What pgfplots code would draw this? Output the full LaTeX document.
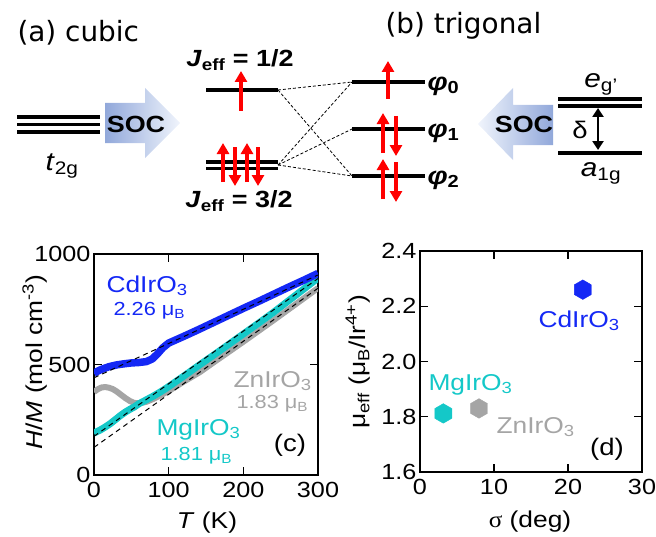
\documentclass[border=0pt]{standalone}
\usepackage{fontspec}
\setmainfont{Liberation Sans}[FakeStretch=1.15]
\newfontfamily\grk{Liberation Serif}[FakeStretch=1.1]
\newfontfamily\hdr{DejaVu Sans}
\usepackage{pgfplots}
\pgfplotsset{compat=1.18}
\usetikzlibrary{arrows.meta}

\definecolor{cdblue}{RGB}{20,40,245}
\definecolor{mgcyan}{RGB}{20,200,200}
\definecolor{zngray}{RGB}{165,165,165}
\definecolor{socdark}{RGB}{145,168,218}
\definecolor{soclight}{RGB}{240,244,252}
\definecolor{spinred}{RGB}{255,0,0}

\newcommand\fs[1]{\fontsize{#1}{#1}\selectfont}

\pgfdeclareplotmark{hexagon}{%
  \pgfpathmoveto{\pgfqpointpolar{90}{\pgfplotmarksize}}%
  \pgfpathlineto{\pgfqpointpolar{150}{\pgfplotmarksize}}%
  \pgfpathlineto{\pgfqpointpolar{210}{\pgfplotmarksize}}%
  \pgfpathlineto{\pgfqpointpolar{270}{\pgfplotmarksize}}%
  \pgfpathlineto{\pgfqpointpolar{330}{\pgfplotmarksize}}%
  \pgfpathlineto{\pgfqpointpolar{30}{\pgfplotmarksize}}%
  \pgfpathclose
  \pgfusepathqfillstroke}

\pgfplotsset{panel/.style={
  scale only axis, anchor=south west,
  axis line style={line width=1.6bp},
  every tick/.style={black, line width=1.4bp},
  major tick length=8bp, tick align=inside,
  tick label style={font=\fs{22}},
  x tick label style={yshift=-4bp},
  /pgf/number format/assume math mode=true,
  /pgf/number format/1000 sep={},
  scaled ticks=false,
}}
\tikzset{
  lvl/.style={black, line width=3.4bp},
  spin/.style={spinred, line width=3.4bp, -{Triangle[width=12bp,length=11bp]}},
  conn/.style={black, line width=0.8bp, dash pattern=on 3bp off 2bp},
}

\begin{document}
\begin{tikzpicture}
\useasboundingbox (0,0) rectangle (656bp,537bp);

% ---------------- panel (c)
\begin{axis}[panel, at={(94bp,62bp)}, width=224bp, height=221bp,
  xmin=0, xmax=300, ymin=0, ymax=1000,
  xtick={0,100,200,300}, ytick={0,500,1000}]
\addplot[zngray, line width=6bp, line join=round] coordinates {
(0,376) (5,388) (10,396) (15,398) (20,395) (25,389) (30,379) (35,366)
(42,348) (48,335) (54,326) (62,325) (70,331) (80,345) (90,362) (100,380)
(120,422) (142,466) (160,509) (180,556) (200,603) (220,651) (240,699)
(260,748) (280,797) (300,846)};
\addplot[mgcyan, line width=7bp, line join=round] coordinates {
(0,190) (8,203) (15,217) (22,233) (28,249) (35,268) (42,285) (48,297)
(54,308) (60,322) (70,340) (80,358) (90,378) (100,400) (120,447) (140,495)
(160,542) (180,590) (200,638) (220,686) (240,735) (260,787) (280,839) (300,891)};
\addplot[cdblue, line width=7.5bp, line join=round] coordinates {
(0,460) (5,470) (10,478) (20,490) (30,498) (40,503) (50,507) (60,509)
(70,513) (78,525) (85,548) (92,575) (100,597) (110,612) (120,627) (140,658)
(160,690) (180,722) (200,754) (220,785) (240,817) (260,849) (280,880) (300,912)};
\addplot[black, line width=1bp, dash pattern=on 5bp off 4bp] coordinates {(0,440) (300,905)};
\addplot[black, line width=1bp, dash pattern=on 5bp off 4bp] coordinates {(0,175) (300,889)};
\addplot[black, line width=1bp, dash pattern=on 5bp off 4bp] coordinates {(0,125) (300,845)};
\end{axis}

% ---------------- panel (d)
\begin{axis}[panel, at={(420bp,65bp)}, width=222bp, height=221bp,
  xmin=0, xmax=30, ymin=1.6, ymax=2.4,
  xtick={0,10,20,30}, ytick={1.6,1.8,2.0,2.2,2.4},
  y tick label style={/pgf/number format/fixed, /pgf/number format/fixed zerofill, /pgf/number format/precision=1}]
\addplot[only marks, mark=hexagon, mark size=9.8bp, color=cdblue] coordinates {(22,2.26)};
\addplot[only marks, mark=hexagon, mark size=9.8bp, color=mgcyan] coordinates {(3.15,1.812)};
\addplot[only marks, mark=hexagon, mark size=9.8bp, color=zngray] coordinates {(7.97,1.83)};
\end{axis}

% ---------------- overlay in pixel coordinates (schematic + texts)
\begin{axis}[at={(0,0)}, anchor=south west, scale only axis,
  width=656bp, height=537bp, xmin=0, xmax=656, ymin=0, ymax=537,
  y dir=reverse, hide axis, clip=false]
% SOC arrows
\shade[left color=socdark, right color=soclight]
  (axis cs:105,103) -- (axis cs:145,103) -- (axis cs:145,88) -- (axis cs:180,123)
  -- (axis cs:145,158) -- (axis cs:145,143) -- (axis cs:105,143) -- cycle;
\shade[left color=soclight, right color=socdark]
  (axis cs:478,124) -- (axis cs:513,88) -- (axis cs:513,105) -- (axis cs:553,105)
  -- (axis cs:553,145) -- (axis cs:513,145) -- (axis cs:513,160) -- cycle;
\node[font=\fs{23.5}\bfseries] at (axis cs:136,124) {SOC};
\node[font=\fs{23.5}\bfseries] at (axis cs:524,124) {SOC};
% t2g levels
\addplot[lvl] coordinates {(17,117) (100,117)};
\addplot[lvl] coordinates {(17,124.5) (100,124.5)};
\addplot[lvl] coordinates {(17,132) (100,132)};
% Jeff levels
\addplot[lvl] coordinates {(206,90) (278,90)};
\addplot[lvl] coordinates {(206,162) (278,162)};
\addplot[lvl] coordinates {(206,168.5) (278,168.5)};
% phi levels
\addplot[lvl] coordinates {(352,82) (425,82)};
\addplot[lvl] coordinates {(352,129) (425,129)};
\addplot[lvl] coordinates {(352,176) (425,176)};
% trigonal levels
\addplot[lvl] coordinates {(558,99) (642,99)};
\addplot[lvl] coordinates {(558,106) (642,106)};
\addplot[lvl] coordinates {(558,153) (642,153)};
% connections
\addplot[conn] coordinates {(278,90) (352,82)};
\addplot[conn] coordinates {(278,90) (352,176)};
\addplot[conn] coordinates {(278,165) (352,82)};
\addplot[conn] coordinates {(278,165) (352,129)};
\addplot[conn] coordinates {(278,165) (352,176)};
% spins
\addplot[spin] coordinates {(241,111) (241,71)};
\addplot[spin] coordinates {(223,182) (223,143)};
\addplot[spin] coordinates {(235,147) (235,186)};
\addplot[spin] coordinates {(247,182) (247,143)};
\addplot[spin] coordinates {(258,147) (258,186)};
\addplot[spin] coordinates {(388,99) (388,61)};
\addplot[spin] coordinates {(383,153) (383,113)};
\addplot[spin] coordinates {(396,116) (396,156)};
\addplot[spin] coordinates {(383,199) (383,159)};
\addplot[spin] coordinates {(396,162) (396,202)};
% delta arrow
\addplot[black, line width=2.8bp, {Triangle[width=11bp,length=9bp]}-{Triangle[width=11bp,length=9bp]}] coordinates {(598,108) (598,150)};
% schematic texts
\node[anchor=west, font=\hdr\fs{28}] at (axis cs:14,33) {(a) cubic};
\node[anchor=west, font=\hdr\fs{28}] at (axis cs:382,26) {(b) trigonal};
\node[font=\fs{26}] at (axis cs:62,166) {\textit{t}\textsubscript{2g}};
\node[font=\fs{23.5}\bfseries] at (axis cs:240,60) {\textit{J}\textsubscript{eff} = 1/2};
\node[font=\fs{23.5}\bfseries] at (axis cs:239,201) {\textit{J}\textsubscript{eff} = 3/2};
\node[anchor=west, font=\fs{25}\bfseries] at (axis cs:424,86) {\textit{φ}\textsubscript{0}};
\node[anchor=west, font=\fs{25}\bfseries] at (axis cs:424,133) {\textit{φ}\textsubscript{1}};
\node[anchor=west, font=\fs{25}\bfseries] at (axis cs:424,180) {\textit{φ}\textsubscript{2}};
\node[font=\fs{24}] at (axis cs:580,130) {δ};
\node[font=\fs{26}] at (axis cs:601,84) {\textit{e}\textsubscript{g'}};
\node[font=\fs{26}] at (axis cs:601,173) {\textit{a}\textsubscript{1g}};
% panel (c) texts
\node[anchor=base west, text=cdblue, font=\fs{23}] at (axis cs:103,292) {CdIrO\textsubscript{3}};
\node[anchor=base west, text=cdblue, font=\fs{19}] at (axis cs:110,315) {2.26 μ\textsubscript{B}};
\node[anchor=base west, text=zngray, font=\fs{23}] at (axis cs:230,387) {ZnIrO\textsubscript{3}};
\node[anchor=base west, text=zngray, font=\fs{19}] at (axis cs:233,408) {1.83 μ\textsubscript{B}};
\node[anchor=base west, text=mgcyan, font=\fs{23}] at (axis cs:153,435) {MgIrO\textsubscript{3}};
\node[anchor=base west, text=mgcyan, font=\fs{19}] at (axis cs:157,460) {1.81 μ\textsubscript{B}};
\node[font=\fs{24}] at (axis cs:290,445) {(c)};
\node[font=\fs{23}] at (axis cs:207,523) {\textit{T} (K)};
\node[rotate=90, font=\fs{23}] at (axis cs:35,362) {\textit{H}/\textit{M} (mol cm\textsuperscript{-3})};
% panel (d) texts
\node[anchor=base west, text=cdblue, font=\fs{23}] at (axis cs:535,327) {CdIrO\textsubscript{3}};
\node[anchor=base west, text=mgcyan, font=\fs{23}] at (axis cs:425,390) {MgIrO\textsubscript{3}};
\node[anchor=base west, text=zngray, font=\fs{23}] at (axis cs:493,433) {ZnIrO\textsubscript{3}};
\node[font=\fs{24}] at (axis cs:607,449) {(d)};
\node[font=\fs{23}] at (axis cs:530,522) {{\grk σ} (deg)};
\node[rotate=90, font=\fs{23}] at (axis cs:358,362) {μ\textsubscript{eff} (μ\textsubscript{B}/Ir\textsuperscript{4+})};
\end{axis}
\end{tikzpicture}
\end{document}
